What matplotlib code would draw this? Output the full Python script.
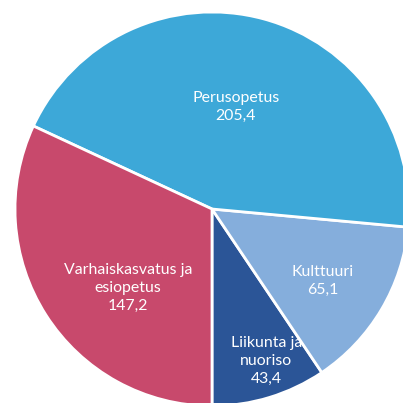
import matplotlib
matplotlib.use("Agg")
import matplotlib.pyplot as plt
import numpy as np

# データ（反時計回り、真下から開始）
categories = ["Liikunta ja\nnuoriso", "Kulttuuri", "Perusopetus", "Varhaiskasvatus ja\nesiopetus"]
values = [43.4, 65.1, 205.4, 147.2]
colors = ["#2B5597", "#85AEDC", "#3DA8D8", "#C8496C"]

# ラベル位置（中心からの距離の割合, 角度）
label_pos = [(0.82, -70.4), (0.67, -33.2), (0.53, 76.8), (0.585, 223.0)]

W, H = 403, 403
cx, cy, r = 212, 209, 197  # ピクセル

fig = plt.figure(figsize=(W / 100, H / 100), dpi=100)
ax = fig.add_axes([0, 0, 1, 1])

ax.pie(values, colors=colors, startangle=-90, counterclock=True,
       wedgeprops=dict(edgecolor="white", linewidth=2))

for name, v, (d, a) in zip(categories, values, label_pos):
    t = np.deg2rad(a)
    txt = f"{name}\n{v:.1f}".replace(".", ",")
    ax.text(d * np.cos(t), d * np.sin(t), txt, ha="center", va="center",
            color="white", fontsize=11.4, family="Lato", linespacing=1.35)

ax.set_xlim(-cx / r, (W - cx) / r)
ax.set_ylim(-(H - cy) / r, cy / r)
ax.set_aspect("auto")
ax.axis("off")

fig.savefig("out.png", dpi=100)
